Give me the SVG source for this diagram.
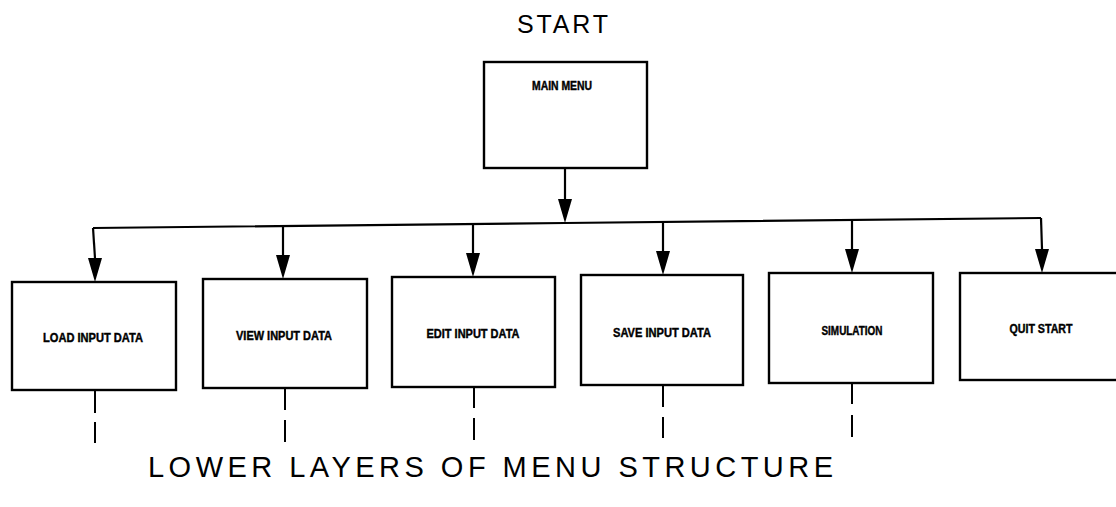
<svg xmlns="http://www.w3.org/2000/svg" width="1116" height="507" viewBox="0 0 1116 507">
  <style>
    .box { fill: #fff; stroke: #000; stroke-width: 2.4; }
    .wire { fill: none; stroke: #000; stroke-width: 2.2; }
    .tail { fill: none; stroke: #000; stroke-width: 2; }
    .lbl { font-family: "Liberation Sans Narrow", "Liberation Sans", sans-serif; font-weight: bold; font-size: 12px; fill: #000; stroke: #000; stroke-width: 0.4; text-anchor: middle; }
    .title { font-family: "Liberation Sans", "DejaVu Sans", sans-serif; fill: #000; text-anchor: start; }
  </style>
  <rect width="1116" height="507" fill="#fff"/>

  <text class="title" x="517" y="33" font-size="25" textLength="91" lengthAdjust="spacing">START</text>

  <g id="connectors">
    <!-- main menu down to the bus -->
    <line class="wire" x1="565" y1="169" x2="565" y2="199"/>
    <path d="M558,199 L572,199 L565,223 Z" fill="#000"/>
    <!-- distribution bus -->
    <path class="wire" d="M93,228 L565,223 L1041,218"/>
    <!-- drops to each submenu -->
    <line class="wire" x1="93" y1="228" x2="95" y2="258"/>
    <path d="M88,258 L102,258 L95,282 Z" fill="#000"/>
    <line class="wire" x1="283" y1="226" x2="283" y2="255"/>
    <path d="M276,255 L290,255 L283,279 Z" fill="#000"/>
    <line class="wire" x1="473" y1="224" x2="473" y2="253"/>
    <path d="M466,253 L480,253 L473,277 Z" fill="#000"/>
    <line class="wire" x1="663" y1="222" x2="663" y2="251"/>
    <path d="M656,251 L670,251 L663,275 Z" fill="#000"/>
    <line class="wire" x1="852" y1="220" x2="852" y2="249"/>
    <path d="M845,249 L859,249 L852,273 Z" fill="#000"/>
    <line class="wire" x1="1041" y1="218" x2="1042" y2="249"/>
    <path d="M1035,249 L1049,249 L1042,273 Z" fill="#000"/>
    <!-- continuation stubs into lower layers -->
    <path class="tail" d="M95,390 V413 M95,422 V443"/>
    <path class="tail" d="M285,388 V410 M285,420 V442"/>
    <path class="tail" d="M474,387 V408 M474,418 V440"/>
    <path class="tail" d="M663,385 V407 M663,417 V438"/>
    <path class="tail" d="M852,383 V404 M852,415 V437"/>
  </g>

  <g id="main-menu">
    <rect class="box" x="484" y="62" width="163" height="106"/>
    <text class="lbl" x="562" y="90" font-size="11" textLength="60" lengthAdjust="spacingAndGlyphs">MAIN MENU</text>
  </g>
  <g id="load-input-data">
    <rect class="box" x="12" y="282" width="164" height="108"/>
    <text class="lbl" x="93" y="342" textLength="100" lengthAdjust="spacingAndGlyphs">LOAD INPUT DATA</text>
  </g>
  <g id="view-input-data">
    <rect class="box" x="203" y="279" width="164" height="109"/>
    <text class="lbl" x="284" y="340" textLength="96" lengthAdjust="spacingAndGlyphs">VIEW INPUT DATA</text>
  </g>
  <g id="edit-input-data">
    <rect class="box" x="392" y="277" width="163" height="110"/>
    <text class="lbl" x="473" y="338" textLength="93" lengthAdjust="spacingAndGlyphs">EDIT INPUT DATA</text>
  </g>
  <g id="save-input-data">
    <rect class="box" x="581" y="275" width="162" height="110"/>
    <text class="lbl" x="662" y="337" textLength="98" lengthAdjust="spacingAndGlyphs">SAVE INPUT DATA</text>
  </g>
  <g id="simulation">
    <rect class="box" x="769" y="273" width="164" height="110"/>
    <text class="lbl" x="852" y="335" textLength="61" lengthAdjust="spacingAndGlyphs">SIMULATION</text>
  </g>
  <g id="quit-start">
    <rect class="box" x="960" y="273" width="170" height="107"/>
    <text class="lbl" x="1041" y="333" textLength="63" lengthAdjust="spacingAndGlyphs">QUIT START</text>
  </g>

  <text class="title" x="148" y="477" font-size="29" textLength="685" lengthAdjust="spacing">LOWER LAYERS OF MENU STRUCTURE</text>
</svg>
